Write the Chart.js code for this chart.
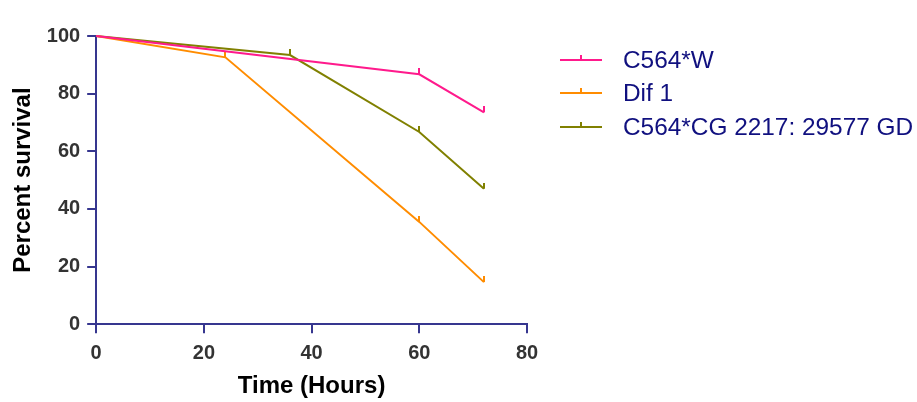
<!DOCTYPE html>
<html>
<head>
<meta charset="utf-8">
<script src="https://cdn.jsdelivr.net/npm/chart.js@4"></script>
<style>
  html, body { margin: 0; padding: 0; background: #fff; }
  #wrap { width: 917px; height: 402px; }
</style>
</head>
<body>
<div id="wrap"><canvas id="myChart" width="917" height="402"></canvas></div>
<script>
// time points (hours) and percent survival per group
let hoursW = [0, 60, 72]
let survivalW = [100, 86.7, 73.5]

let hoursDif = [0, 24, 60, 72]
let survivalDif = [100, 92.6, 35.5, 14.6]

let hoursCG = [0, 36, 60, 72]
let survivalCG = [100, 93.4, 66.7, 47]

let labels = ['C564*W', 'Dif 1', 'C564*CG 2217: 29577 GD']
let colors = ['#ff1a8c', '#ff8c00', '#808000']

let xTicks = [0, 20, 40, 60, 80]
let yTicks = [0, 20, 40, 60, 80, 100]

const axisColor = '#36368f'
const fontFamily = '"Liberation Sans", Arial, sans-serif'

// little upward tick used as censor mark
function censorMark(color) {
  let c = document.createElement('canvas')
  c.width = 2
  c.height = 12
  let g = c.getContext('2d')
  g.fillStyle = color
  g.fillRect(0, 0, 2, 6)
  return c
}

function toPoints(xs, ys) {
  return xs.map((x, i) => ({ x: x, y: ys[i] }))
}

function makeSet(i, xs, ys) {
  return {
    label: labels[i],
    data: toPoints(xs, ys),
    borderColor: colors[i],
    backgroundColor: colors[i],
    borderWidth: 2,
    tension: 0,
    fill: false,
    pointStyle: censorMark(colors[i]),
    pointRadius: ctx => (ctx.dataIndex === 0 ? 0 : 3),
    pointHoverRadius: ctx => (ctx.dataIndex === 0 ? 0 : 3)
  }
}

// legend drawn on the right, line with a tick then the label
const sideLegend = {
  id: 'sideLegend',
  afterDraw(chart) {
    const g = chart.ctx
    const x0 = 560, x1 = 602, textX = 623
    const top = 60, step = 33.3
    g.save()
    chart.data.datasets.forEach((ds, i) => {
      const y = Math.round(top + i * step)
      g.strokeStyle = ds.borderColor
      g.lineWidth = 2
      g.beginPath()
      g.moveTo(x0, y)
      g.lineTo(x1, y)
      g.moveTo((x0 + x1) / 2, y)
      g.lineTo((x0 + x1) / 2, y - 5)
      g.stroke()
      g.fillStyle = '#10107f'
      g.font = '24.4px ' + fontFamily
      g.textBaseline = 'middle'
      g.fillText(ds.label, textX, y + 1)
    })
    g.restore()
  }
}

const ctx = document.getElementById('myChart').getContext('2d')
const myChart = new Chart(ctx, {
  type: 'line',
  data: {
    datasets: [
      makeSet(0, hoursW, survivalW),
      makeSet(1, hoursDif, survivalDif),
      makeSet(2, hoursCG, survivalCG)
    ]
  },
  options: {
    responsive: false,
    animation: false,
    events: [],
    clip: false,
    layout: {
      padding: { left: 0, right: 390, top: 36, bottom: 0 }
    },
    scales: {
      x: {
        type: 'linear',
        min: 0,
        max: 80,
        afterBuildTicks: axis => { axis.ticks = xTicks.map(v => ({ value: v })) },
        grid: {
          drawOnChartArea: false,
          drawTicks: true,
          tickLength: 9,
          color: axisColor,
          lineWidth: 2
        },
        border: { color: axisColor, width: 2 },
        ticks: {
          color: '#333',
          padding: 8,
          maxRotation: 0,
          font: { family: fontFamily, size: 20, weight: 'bold' }
        },
        title: {
          display: true,
          text: 'Time (Hours)',
          color: '#000',
          padding: { top: -1, bottom: 1 },
          font: { family: fontFamily, size: 24, weight: 'bold' }
        }
      },
      y: {
        type: 'linear',
        min: 0,
        max: 100,
        afterBuildTicks: axis => { axis.ticks = yTicks.map(v => ({ value: v })) },
        grid: {
          drawOnChartArea: false,
          drawTicks: true,
          tickLength: 9,
          color: axisColor,
          lineWidth: 2
        },
        border: { color: axisColor, width: 2 },
        ticks: {
          color: '#333',
          padding: 7,
          font: { family: fontFamily, size: 20, weight: 'bold' }
        },
        title: {
          display: true,
          text: 'Percent survival',
          color: '#000',
          padding: { top: 9, bottom: 2 },
          font: { family: fontFamily, size: 24, weight: 'bold' }
        }
      }
    },
    plugins: {
      legend: { display: false },
      tooltip: { enabled: false }
    }
  },
  plugins: [sideLegend]
})
</script>
</body>
</html>
